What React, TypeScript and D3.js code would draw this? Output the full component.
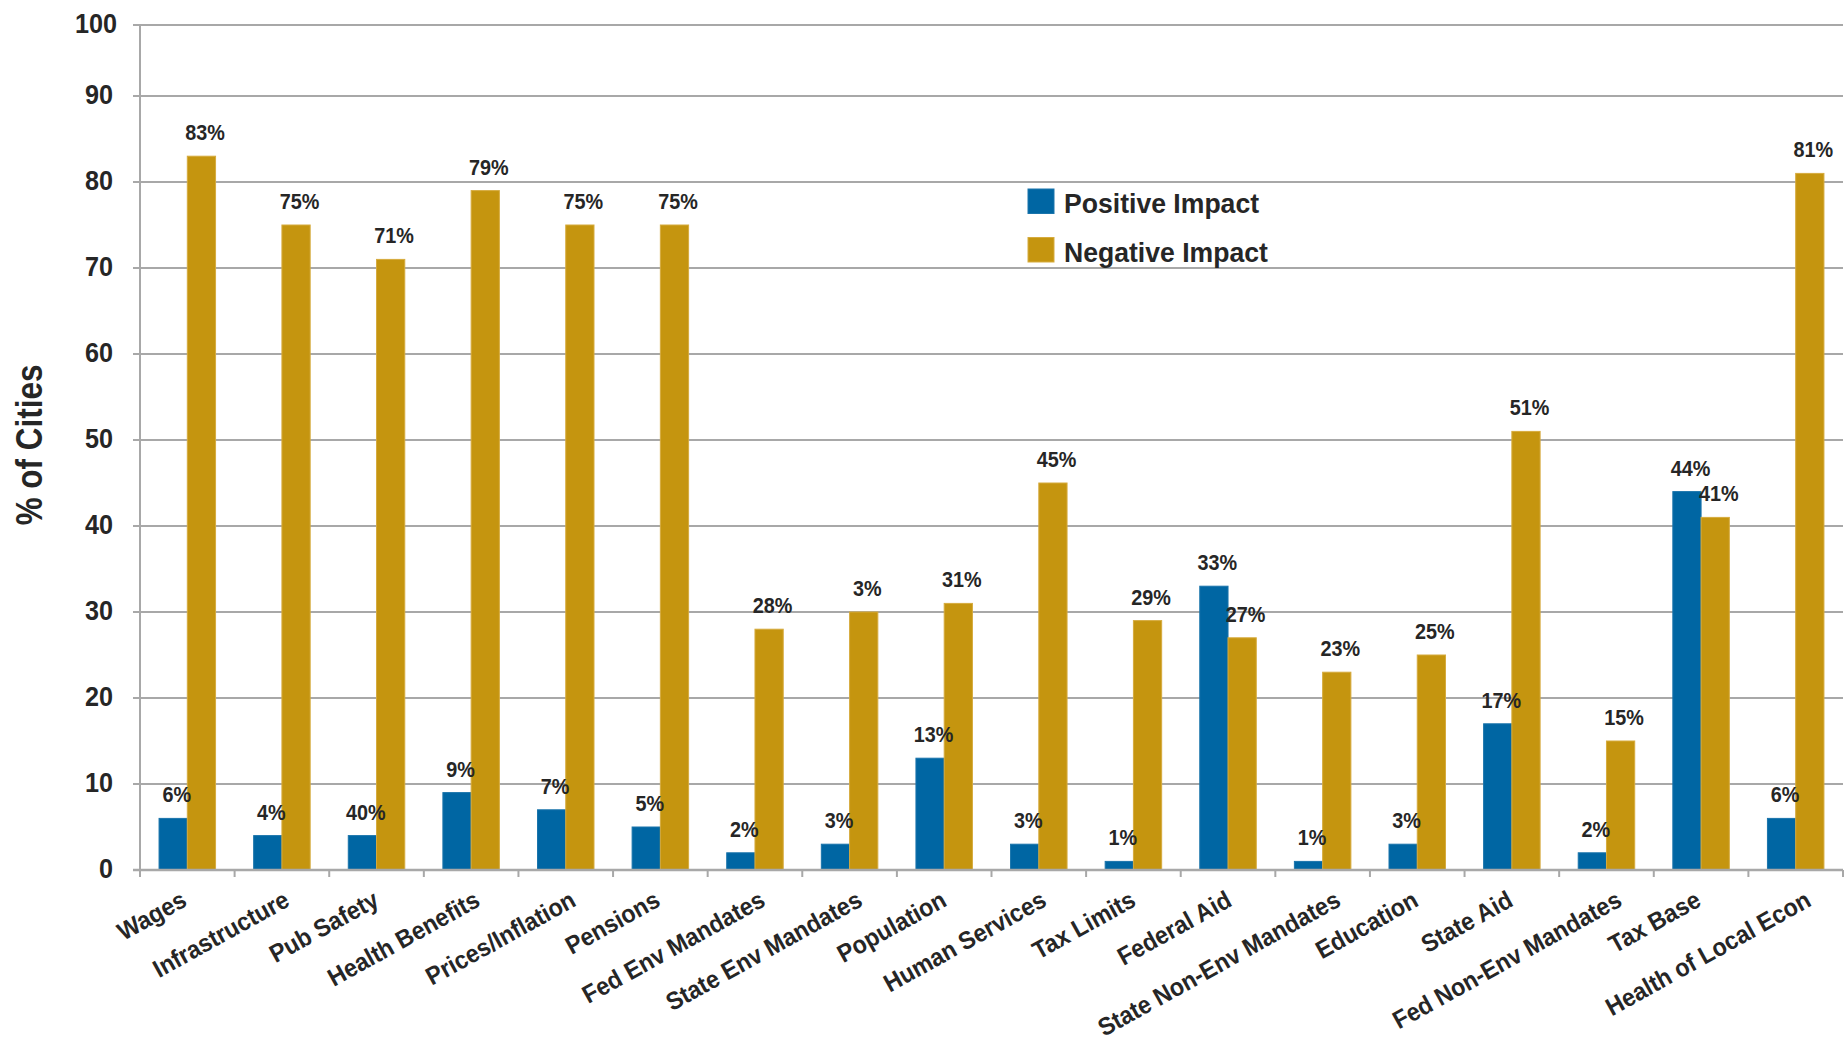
import React from "react";
import * as d3 from "d3";

const categories = [
  "Wages", "Infrastructure", "Pub Safety", "Health Benefits", "Prices/Inflation", "Pensions",
  "Fed Env Mandates", "State Env Mandates", "Population", "Human Services", "Tax Limits",
  "Federal Aid", "State Non-Env Mandates", "Education", "State Aid", "Fed Non-Env Mandates",
  "Tax Base", "Health of Local Econ",
];
const positiveValues = [6, 4, 4, 9, 7, 5, 2, 3, 13, 3, 1, 33, 1, 3, 17, 2, 44, 6];
const negativeValues = [83, 75, 71, 79, 75, 75, 28, 30, 31, 45, 29, 27, 23, 25, 51, 15, 41, 81];
const positiveLabels = ["6%", "4%", "40%", "9%", "7%", "5%", "2%", "3%", "13%", "3%", "1%", "33%", "1%", "3%", "17%", "2%", "44%", "6%"];
const negativeLabels = ["83%", "75%", "71%", "79%", "75%", "75%", "28%", "3%", "31%", "45%", "29%", "27%", "23%", "25%", "51%", "15%", "41%", "81%"];
const yTicks = [0, 10, 20, 30, 40, 50, 60, 70, 80, 90, 100];
const seriesNames = ["Positive Impact", "Negative Impact"];
const seriesColors = ["#0066a3", "#c5950f"];
const seriesStroke = ["#1a74ab", "#d6ab3e"];
const yTitle = "% of Cities";

const W = 1848;
const H = 1044;
const FONT = "'Liberation Sans', Arial, sans-serif";
const TEXT = "#262626";
const GRID = "#a8a8a8";

export default function App() {
  const x0 = d3.scaleBand<string>().domain(categories).range([140, 1843]).padding(0);
  const x1 = d3.scaleBand<string>().domain(seriesNames).range([-28.25, 28.25]).padding(0);
  const y = d3.scaleLinear().domain([0, 90, 100]).range([870, 96, 25]);
  const series = [positiveValues, negativeValues];
  const labels = [positiveLabels, negativeLabels];
  const center = (c: string) => (x0(c) as number) + x0.bandwidth() / 2;
  const tickXs = [...categories.map((c) => x0(c) as number), 1843];

  return (
    <svg width={W} height={H} style={{ position: "absolute", left: 0, top: 0, background: "#fff" }}
      fontFamily={FONT} fontWeight="bold">
      <rect x={0} y={0} width={W} height={H} fill="#fff" />
      {/* gridlines */}
      {yTicks.map((t) => (
        <line key={"g" + t} x1={133} x2={1843} y1={y(t)} y2={y(t)} stroke={GRID} strokeWidth={2} />
      ))}
      {/* bars */}
      {categories.map((c, i) => (
        <g key={"b" + c}>
          {series.map((vals, s) => {
            const bx = center(c) + (x1(seriesNames[s]) as number);
            return (
              <rect key={s} x={bx} y={y(vals[i])} width={x1.bandwidth()} height={y(0) - y(vals[i])}
                fill={seriesColors[s]} stroke={seriesStroke[s]} strokeWidth={1} />
            );
          })}
        </g>
      ))}
      {/* axes */}
      <line x1={140} x2={140} y1={y(100)} y2={877} stroke={GRID} strokeWidth={2} />
      <line x1={133} x2={1843} y1={y(0)} y2={y(0)} stroke={GRID} strokeWidth={2.5} />
      {tickXs.map((tx, i) => (
        <line key={"t" + i} x1={tx} x2={tx} y1={y(0)} y2={877} stroke={GRID} strokeWidth={2} />
      ))}
      {/* y tick labels */}
      {yTicks.map((t) => (
        <text key={"yl" + t} transform={`translate(${t === 100 ? 117 : 113},${y(t) + 8}) scale(0.9,1)`} textAnchor="end"
          fontSize={28} fill={TEXT}>{t}</text>
      ))}
      {/* y title */}
      <text transform="translate(42,445) rotate(-90) scale(0.85,1)" textAnchor="middle" fontSize={37} fill={TEXT}>
        {yTitle}
      </text>
      {/* value labels */}
      {categories.map((c, i) => (
        <g key={"vl" + c}>
          {series.map((vals, s) => {
            const bx = center(c) + (x1(seriesNames[s]) as number) + x1.bandwidth() / 2 + 3.5;
            return (
              <text key={s} transform={`translate(${bx},${y(vals[i]) - 16}) scale(0.9,1)`} textAnchor="middle"
                fontSize={22} fill={TEXT}>{labels[s][i]}</text>
            );
          })}
        </g>
      ))}
      {/* x labels */}
      {categories.map((c) => {
        const dx = Math.max(1, -9 + 1.3 * c.length);
        return (
          <text key={"xl" + c} transform={`translate(${center(c) + dx},905) rotate(-29) scale(0.93,1)`}
            textAnchor="end" fontSize={25} fill={TEXT}>{c}</text>
        );
      })}
      {/* legend */}
      {seriesNames.map((n, s) => (
        <g key={"lg" + n} transform={`translate(1028,${189 + s * 48.5})`}>
          <rect x={0} y={0} width={26} height={24.5} fill={seriesColors[s]} stroke={seriesStroke[s]} strokeWidth={1} />
          <text transform="translate(36,24) scale(0.95,1)" fontSize={28} fill={TEXT}>{n}</text>
        </g>
      ))}
    </svg>
  );
}
